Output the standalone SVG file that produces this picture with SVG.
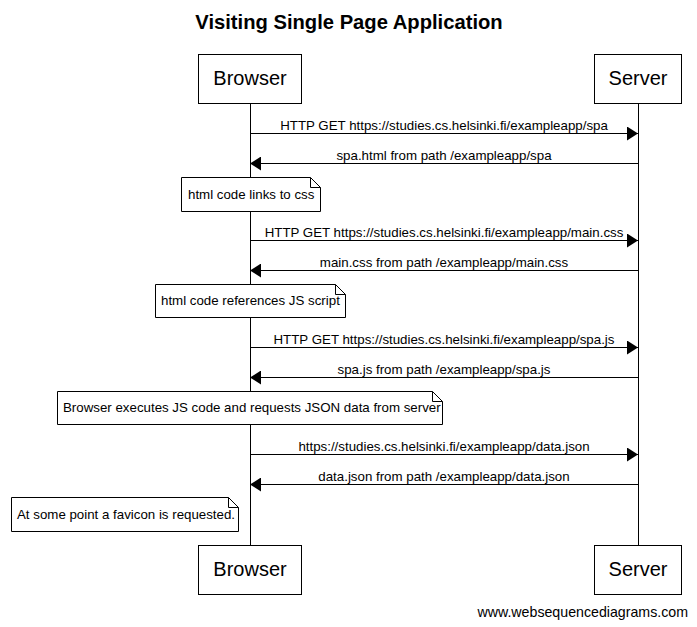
<svg xmlns="http://www.w3.org/2000/svg" width="697" height="627" viewBox="0 0 697 627">
<style>
text{font-family:"Liberation Sans",Arial,sans-serif;fill:#000}
.t{font-size:20.2px;font-weight:bold}
.p{font-size:20px}
.m{font-size:13.3px}
.f{font-size:14.2px}
.box{fill:#fff;stroke:#000;stroke-width:1}
.life{stroke:#000;stroke-width:1}
.msg{stroke:#000;stroke-width:1;fill:none}
.note{fill:#fff;stroke:#000;stroke-width:1}
</style>
<defs>
<marker id="ah" viewBox="0 0 11 14" refX="11" refY="7" markerWidth="11" markerHeight="14" markerUnits="userSpaceOnUse" orient="auto">
<path d="M0,0 L11,7 L0,14 Z" fill="#000"/>
</marker>
</defs>
<rect width="697" height="627" fill="#fff"/>
<text class="t" x="349" y="29" text-anchor="middle">Visiting Single Page Application</text>
<g id="lifelines">
<line class="life" x1="250.5" y1="103" x2="250.5" y2="545"/>
<line class="life" x1="638.5" y1="103" x2="638.5" y2="545"/>
</g>
<g id="browser-top"><rect class="box" x="198.5" y="54.5" width="103" height="49"/><text class="p" x="250" y="85" text-anchor="middle">Browser</text></g>
<g id="server-top"><rect class="box" x="594.5" y="54.5" width="87" height="49"/><text class="p" x="638" y="85" text-anchor="middle">Server</text></g>
<g id="browser-bottom"><rect class="box" x="198.5" y="545.5" width="103" height="49"/><text class="p" x="250" y="576" text-anchor="middle">Browser</text></g>
<g id="server-bottom"><rect class="box" x="594.5" y="545.5" width="87" height="49"/><text class="p" x="638" y="576" text-anchor="middle">Server</text></g>
<g id="connectors">
<line class="msg" x1="250" y1="133.5" x2="638" y2="133.5" marker-end="url(#ah)"/>
<text class="m" x="444" y="130" text-anchor="middle">HTTP GET https://studies.cs.helsinki.fi/exampleapp/spa</text>
<line class="msg" x1="638" y1="163.5" x2="250" y2="163.5" marker-end="url(#ah)"/>
<text class="m" x="444" y="160" text-anchor="middle">spa.html from path /exampleapp/spa</text>
<line class="msg" x1="250" y1="240.5" x2="638" y2="240.5" marker-end="url(#ah)"/>
<text class="m" x="444" y="237" text-anchor="middle">HTTP GET https://studies.cs.helsinki.fi/exampleapp/main.css</text>
<line class="msg" x1="638" y1="270.5" x2="250" y2="270.5" marker-end="url(#ah)"/>
<text class="m" x="444" y="267" text-anchor="middle">main.css from path /exampleapp/main.css</text>
<line class="msg" x1="250" y1="347.5" x2="638" y2="347.5" marker-end="url(#ah)"/>
<text class="m" x="444" y="344" text-anchor="middle">HTTP GET https://studies.cs.helsinki.fi/exampleapp/spa.js</text>
<line class="msg" x1="638" y1="377.5" x2="250" y2="377.5" marker-end="url(#ah)"/>
<text class="m" x="444" y="374" text-anchor="middle">spa.js from path /exampleapp/spa.js</text>
<line class="msg" x1="250" y1="454.5" x2="638" y2="454.5" marker-end="url(#ah)"/>
<text class="m" x="444" y="451" text-anchor="middle">https://studies.cs.helsinki.fi/exampleapp/data.json</text>
<line class="msg" x1="638" y1="484.5" x2="250" y2="484.5" marker-end="url(#ah)"/>
<text class="m" x="444" y="481" text-anchor="middle">data.json from path /exampleapp/data.json</text>
</g>
<g id="note1"><path class="note" d="M181.5,177.5 H310.5 L320.5,187.5 V211.5 H181.5 Z"/><path class="msg" d="M310.5,177.5 V187.5 H320.5"/><text class="m" x="188" y="199">html code links to css</text></g>
<g id="note2"><path class="note" d="M155.5,284.5 H335.5 L345.5,294.5 V317.5 H155.5 Z"/><path class="msg" d="M335.5,284.5 V294.5 H345.5"/><text class="m" x="161" y="305">html code references JS script</text></g>
<g id="note3"><path class="note" d="M57.5,391.5 H432.5 L442.5,401.5 V424.5 H57.5 Z"/><path class="msg" d="M432.5,391.5 V401.5 H442.5"/><text class="m" x="63" y="412">Browser executes JS code and requests JSON data from server</text></g>
<g id="note4"><path class="note" d="M11.5,497.5 H228.5 L238.5,507.5 V531.5 H11.5 Z"/><path class="msg" d="M228.5,497.5 V507.5 H238.5"/><text class="m" x="17" y="519">At some point a favicon is requested.</text></g>
<text class="f" x="688" y="617" text-anchor="end">www.websequencediagrams.com</text>
</svg>
